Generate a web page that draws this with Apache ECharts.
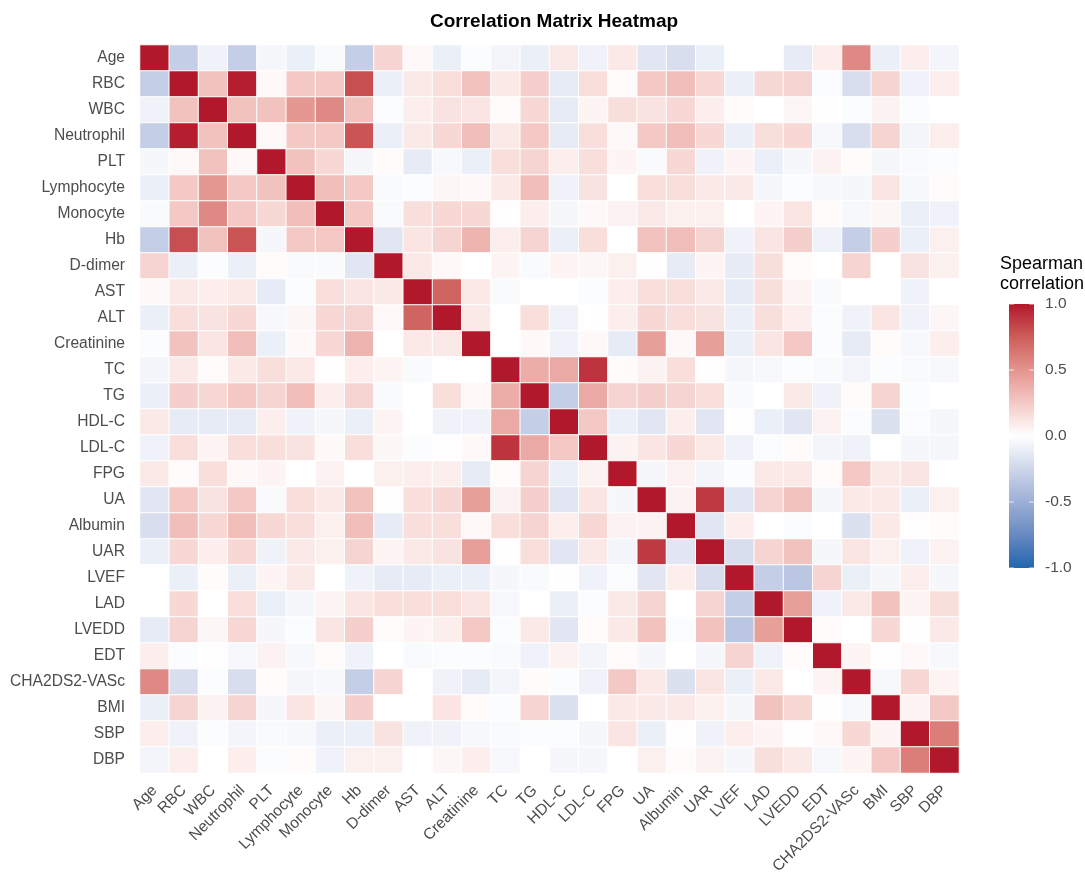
<!DOCTYPE html>
<html>
<head>
<meta charset="utf-8">
<script src="https://cdn.jsdelivr.net/npm/echarts@6/dist/echarts.min.js"></script>
<style>
html,body{margin:0;padding:0;background:#fff;}
#chart{width:1085px;height:880px;}
</style>
</head>
<body>
<div id="chart"></div>
<script>
const categories = ['Age','RBC','WBC','Neutrophil','PLT','Lymphocyte','Monocyte','Hb','D-dimer','AST','ALT','Creatinine','TC','TG','HDL-C','LDL-C','FPG','UA','Albumin','UAR','LVEF','LAD','LVEDD','EDT','CHA2DS2-VASc','BMI','SBP','DBP'];

const corr = [
/* Age */        [1, -0.3, -0.08, -0.3, -0.05, -0.1, -0.03, -0.3, 0.2, 0.03, -0.1, -0.02, -0.06, -0.1, 0.1, -0.08, 0.1, -0.15, -0.2, -0.1, 0.0, 0.0, -0.12, 0.08, 0.55, -0.1, 0.08, -0.06],
/* RBC */        [-0.3, 1, 0.28, 0.98, 0.03, 0.25, 0.25, 0.8, -0.1, 0.1, 0.15, 0.28, 0.1, 0.22, -0.12, 0.15, 0.02, 0.25, 0.3, 0.18, -0.1, 0.18, 0.2, -0.02, -0.2, 0.2, -0.08, 0.08],
/* WBC */        [-0.08, 0.28, 1, 0.28, 0.28, 0.48, 0.55, 0.28, -0.02, 0.08, 0.13, 0.12, 0.02, 0.18, -0.12, 0.05, 0.15, 0.13, 0.18, 0.08, 0.02, 0.0, 0.04, 0.01, -0.02, 0.06, -0.02, 0.0],
/* Neutrophil */ [-0.3, 0.98, 0.28, 1, 0.03, 0.25, 0.25, 0.78, -0.1, 0.1, 0.18, 0.3, 0.1, 0.25, -0.12, 0.15, 0.03, 0.25, 0.3, 0.18, -0.1, 0.15, 0.18, -0.04, -0.2, 0.2, -0.06, 0.08],
/* PLT */        [-0.05, 0.03, 0.28, 0.03, 1, 0.28, 0.18, -0.05, 0.02, -0.12, -0.04, -0.1, 0.15, 0.2, 0.08, 0.15, 0.05, -0.03, 0.18, -0.08, 0.05, -0.1, -0.05, 0.06, 0.02, -0.05, -0.03, -0.02],
/* Lymphocyte */ [-0.1, 0.25, 0.48, 0.25, 0.28, 1, 0.3, 0.25, -0.03, -0.02, 0.04, 0.03, 0.1, 0.3, -0.08, 0.13, 0.0, 0.15, 0.15, 0.1, 0.1, -0.05, -0.02, -0.04, -0.05, 0.12, -0.04, 0.02],
/* Monocyte */   [-0.03, 0.25, 0.55, 0.25, 0.18, 0.3, 1, 0.25, -0.03, 0.15, 0.18, 0.18, 0.01, 0.08, -0.05, 0.03, 0.06, 0.1, 0.07, 0.07, 0.0, 0.05, 0.12, 0.02, -0.04, 0.04, -0.1, -0.08],
/* Hb */         [-0.3, 0.8, 0.28, 0.78, -0.05, 0.25, 0.25, 1, -0.15, 0.12, 0.2, 0.35, 0.08, 0.2, -0.1, 0.15, 0.0, 0.28, 0.3, 0.2, -0.08, 0.12, 0.22, -0.08, -0.3, 0.22, -0.1, 0.07],
/* D-dimer */    [0.2, -0.1, -0.02, -0.1, 0.02, -0.03, -0.03, -0.15, 1, 0.1, 0.03, 0.0, 0.05, -0.03, 0.05, 0.04, 0.07, 0.01, -0.12, 0.05, -0.12, 0.15, 0.02, 0.0, 0.2, 0.0, 0.13, 0.07],
/* AST */        [0.03, 0.1, 0.08, 0.1, -0.12, -0.02, 0.15, 0.12, 0.1, 1, 0.72, 0.1, -0.03, 0.0, 0.0, -0.02, 0.08, 0.15, 0.15, 0.1, -0.12, 0.15, 0.05, -0.03, 0.0, 0.0, -0.08, 0.0],
/* ALT */        [-0.1, 0.15, 0.13, 0.18, -0.04, 0.04, 0.18, 0.2, 0.03, 0.72, 1, 0.1, 0.0, 0.15, -0.08, 0.01, 0.08, 0.18, 0.15, 0.13, -0.1, 0.15, 0.08, -0.02, -0.08, 0.12, -0.08, 0.04],
/* Creatinine */ [-0.02, 0.28, 0.12, 0.3, -0.1, 0.03, 0.18, 0.35, 0.0, 0.1, 0.1, 1, 0.0, 0.03, -0.08, 0.03, -0.12, 0.45, 0.03, 0.45, -0.1, 0.12, 0.25, -0.02, -0.12, 0.02, -0.04, 0.08],
/* TC */         [-0.06, 0.1, 0.02, 0.1, 0.15, 0.1, 0.01, 0.08, 0.05, -0.03, 0.0, 0.0, 1, 0.38, 0.4, 0.9, 0.02, 0.06, 0.15, 0.01, -0.05, -0.04, -0.02, -0.03, -0.06, -0.02, -0.03, -0.04],
/* TG */         [-0.1, 0.22, 0.18, 0.25, 0.2, 0.3, 0.08, 0.2, -0.03, 0.0, 0.15, 0.03, 0.38, 1, -0.3, 0.4, 0.2, 0.22, 0.2, 0.15, -0.03, 0.0, 0.1, -0.08, 0.02, 0.2, -0.02, 0.0],
/* HDL-C */      [0.1, -0.12, -0.12, -0.12, 0.08, -0.08, -0.05, -0.1, 0.05, 0.0, -0.08, -0.08, 0.4, -0.3, 1, 0.25, -0.1, -0.15, 0.08, -0.15, 0.01, -0.1, -0.15, 0.06, -0.02, -0.18, -0.02, -0.05],
/* LDL-C */      [-0.08, 0.15, 0.05, 0.15, 0.15, 0.13, 0.03, 0.15, 0.04, -0.02, 0.01, 0.03, 0.9, 0.4, 0.25, 1, 0.06, 0.12, 0.18, 0.1, -0.08, -0.02, 0.02, -0.06, -0.08, 0.0, -0.05, -0.05],
/* FPG */        [0.1, 0.02, 0.15, 0.03, 0.05, 0.0, 0.06, 0.0, 0.07, 0.08, 0.08, -0.12, 0.02, 0.2, -0.1, 0.06, 1, -0.05, 0.06, -0.06, -0.02, 0.1, 0.1, 0.02, 0.25, 0.1, 0.12, 0.0],
/* UA */         [-0.15, 0.25, 0.13, 0.25, -0.03, 0.15, 0.1, 0.28, 0.01, 0.15, 0.18, 0.45, 0.06, 0.22, -0.15, 0.12, -0.05, 1, 0.06, 0.88, -0.15, 0.2, 0.28, -0.05, 0.1, 0.1, -0.1, 0.07],
/* Albumin */    [-0.2, 0.3, 0.18, 0.3, 0.18, 0.15, 0.07, 0.3, -0.12, 0.15, 0.15, 0.03, 0.15, 0.2, 0.08, 0.18, 0.06, 0.06, 1, -0.15, 0.08, 0.0, -0.02, 0.0, -0.18, 0.1, 0.01, 0.02],
/* UAR */        [-0.1, 0.18, 0.08, 0.18, -0.08, 0.1, 0.07, 0.2, 0.05, 0.1, 0.13, 0.45, 0.01, 0.15, -0.15, 0.1, -0.06, 0.88, -0.15, 1, -0.2, 0.2, 0.28, -0.05, 0.12, 0.07, -0.08, 0.06],
/* LVEF */       [0.0, -0.1, 0.02, -0.1, 0.05, 0.1, 0.0, -0.08, -0.12, -0.12, -0.1, -0.1, -0.05, -0.03, 0.01, -0.08, -0.02, -0.15, 0.08, -0.2, 1, -0.3, -0.35, 0.2, -0.1, -0.05, 0.08, -0.05],
/* LAD */        [0.0, 0.18, 0.0, 0.15, -0.1, -0.05, 0.05, 0.12, 0.15, 0.15, 0.15, 0.12, -0.04, 0.0, -0.1, -0.02, 0.1, 0.2, 0.0, 0.2, -0.3, 1, 0.45, -0.08, 0.1, 0.28, 0.05, 0.15],
/* LVEDD */      [-0.12, 0.2, 0.04, 0.18, -0.05, -0.02, 0.12, 0.22, 0.02, 0.05, 0.08, 0.25, -0.02, 0.1, -0.15, 0.02, 0.1, 0.28, -0.02, 0.28, -0.35, 0.45, 1, 0.02, 0.0, 0.18, 0.01, 0.1],
/* EDT */        [0.08, -0.02, 0.01, -0.04, 0.06, -0.04, 0.02, -0.08, 0.0, -0.03, -0.02, -0.02, -0.03, -0.08, 0.06, -0.06, 0.02, -0.05, 0.0, -0.05, 0.2, -0.08, 0.02, 1, 0.05, 0.01, 0.03, -0.04],
/* CHA2DS2 */    [0.55, -0.2, -0.02, -0.2, 0.02, -0.05, -0.04, -0.3, 0.2, 0.0, -0.08, -0.12, -0.06, 0.02, -0.02, -0.08, 0.25, 0.1, -0.18, 0.12, -0.1, 0.1, 0.0, 0.05, 1, -0.04, 0.18, 0.05],
/* BMI */        [-0.1, 0.2, 0.06, 0.2, -0.05, 0.12, 0.04, 0.22, 0.0, 0.0, 0.12, 0.02, -0.02, 0.2, -0.18, 0.0, 0.1, 0.1, 0.1, 0.07, -0.05, 0.28, 0.18, 0.01, -0.04, 1, 0.05, 0.25],
/* SBP */        [0.08, -0.08, -0.02, -0.06, -0.03, -0.04, -0.1, -0.1, 0.13, -0.08, -0.08, -0.04, -0.03, -0.02, -0.02, -0.05, 0.12, -0.1, 0.01, -0.08, 0.08, 0.05, 0.01, 0.03, 0.18, 0.05, 1, 0.6],
/* DBP */        [-0.06, 0.08, 0.0, 0.08, -0.02, 0.02, -0.08, 0.07, 0.07, 0.0, 0.04, 0.08, -0.04, 0.0, -0.05, -0.05, 0.0, 0.07, 0.02, 0.06, -0.05, 0.15, 0.1, -0.04, 0.05, 0.25, 0.6, 1]
];

const legendTicks = [1.0, 0.5, 0.0, -0.5, -1.0];
const legendTickLabels = ['1.0', '0.5', '0.0', '-0.5', '-1.0'];
const palette = ['#2166AC','#6889C1','#9CAFD6','#CED6EA','#FFFFFF','#F4C9C5','#E4948E','#CD5D5A','#B2182B'];

const data = [];
for (let i = 0; i < categories.length; i++) {
  for (let j = 0; j < categories.length; j++) {
    data.push([j, i, corr[i][j]]);
  }
}

const FONT = "'Liberation Sans', Arial, Helvetica, sans-serif";
const barLeft = 1009, barTop = 304, barW = 25, barH = 264;

const graphics = [];
// colour bar drawn as a gradient rectangle (top = +1, bottom = -1)
graphics.push({
  type: 'rect', shape: {x: barLeft, y: barTop, width: barW, height: barH},
  style: {fill: new echarts.graphic.LinearGradient(0, 0, 0, 1,
    palette.slice().reverse().map((c, k, arr) => ({offset: k / (arr.length - 1), color: c})))},
  z: 90
});
legendTicks.forEach((v, k) => {
  const y = barTop + (1 - v) / 2 * barH;
  graphics.push({type: 'text', left: 1045, top: y - 8,
    style: {text: legendTickLabels[k], font: "15.5px " + FONT, fill: '#4D4D4D'}});
  graphics.push({type: 'line', shape: {x1: barLeft, y1: y, x2: barLeft + 5, y2: y}, style: {stroke: 'rgba(255,255,255,0.8)', lineWidth: 1}, z: 100});
  graphics.push({type: 'line', shape: {x1: barLeft + barW - 5, y1: y, x2: barLeft + barW, y2: y}, style: {stroke: 'rgba(255,255,255,0.8)', lineWidth: 1}, z: 100});
});
graphics.push({type: 'text', left: 1000, top: 254,
  style: {text: 'Spearman\ncorrelation', font: "18px " + FONT, fill: '#000', lineHeight: 20}});

const chart = echarts.init(document.getElementById('chart'), null, {renderer: 'canvas'});
chart.setOption({
  backgroundColor: '#fff',
  animation: false,
  title: {
    text: 'Correlation Matrix Heatmap',
    left: 549, top: 7, textAlign: 'center',
    textStyle: {fontFamily: FONT, fontSize: 19, fontWeight: 'bold', color: '#000'}
  },
  grid: {left: 140, right: 126, top: 45, bottom: 107},
  xAxis: {
    type: 'category', data: categories,
    axisLine: {show: false}, axisTick: {show: false}, splitLine: {show: false},
    axisLabel: {rotate: 45, interval: 0, margin: 15, color: '#4D4D4D', fontSize: 15.6, fontFamily: FONT}
  },
  yAxis: {
    type: 'category', data: categories, inverse: true,
    axisLine: {show: false}, axisTick: {show: false}, splitLine: {show: false},
    axisLabel: {interval: 0, margin: 15, color: '#4D4D4D', fontSize: 15.6, fontFamily: FONT}
  },
  visualMap: {
    type: 'continuous', min: -1, max: 1, show: false,
    inRange: {color: palette}
  },
  graphic: graphics,
  series: [{
    type: 'heatmap', data: data,
    itemStyle: {borderColor: '#fff', borderWidth: 1},
    emphasis: {disabled: true}
  }]
});
</script>
</body>
</html>
